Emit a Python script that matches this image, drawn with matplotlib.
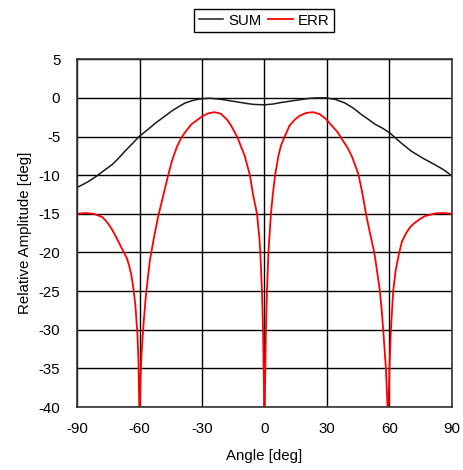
import matplotlib
matplotlib.use('Agg')
import matplotlib.pyplot as plt
from matplotlib.ticker import MultipleLocator

plt.rcParams['font.family'] = ['Liberation Sans', 'DejaVu Sans']
plt.rcParams['axes.unicode_minus'] = False

# sum channel pattern
sum_angle = [-90, -85, -81, -77, -73, -70, -67, -63, -60, -56, -52.5, -48.5, -44.5, -41, -38, -34,
             -30, -26, -20.5, -16, -12.5, -8, -5, 0, 4, 8, 13, 18, 22, 25, 29.5, 34, 38.5, 42.5,
             46.5, 50, 53, 56.5, 60, 65, 70.5, 76, 81.5, 86, 90]
sum_amp = [-11.6, -10.9, -10.2, -9.4, -8.6, -7.8, -6.9, -5.8, -4.95, -4.1, -3.3, -2.5, -1.7, -1.1,
           -0.65, -0.3, -0.1, -0.05, -0.2, -0.4, -0.55, -0.75, -0.85, -0.9, -0.8, -0.6, -0.4, -0.2,
           -0.05, 0.0, 0.0, -0.2, -0.65, -1.3, -2.15, -2.8, -3.4, -3.9, -4.5, -5.7, -6.9, -7.8,
           -8.6, -9.3, -10.1]

# difference (error) channel pattern
err_angle = [-90, -86, -82, -80, -78, -76.5, -75, -73.5, -72, -70.5, -69, -67.5, -66, -65, -64,
             -63, -62, -61, -60.5, -60,
             -59.5, -59, -58, -57, -56, -55, -53, -51, -48.5, -46.5, -44.5, -42, -40, -38,
             -35, -32, -30, -27, -24, -21, -18, -16, -13, -9.5, -7, -5.5, -3.6, -2.5, -2,
             -1.2, -0.7, -0.4, 0, 0.4, 0.7, 1.2, 1.9, 3.1, 4, 5.1, 6.7, 8, 9.9, 12, 14.6,
             17, 20, 23.4, 26.5, 29.4, 32, 35, 37.1, 40, 42, 45, 46.6, 47.7, 48.7, 50.5,
             52.7, 54, 55.4, 56.3, 57, 58.3, 59.4, 60, 60.7, 61.8, 63, 64.7, 66, 68, 70, 72,
             74.5, 77, 82, 86, 90]
err_amp = [-15.0, -14.9, -15.0, -15.2, -15.4, -15.8, -16.3, -16.9, -17.6, -18.4, -19.2, -20.0, -20.8,
           -21.7, -22.8, -24.5, -26.8, -30.5, -34, -42,
           -36, -33, -29, -25.8, -23.3, -21.0, -18.0, -15.3, -12.5, -10.3, -8.2, -6.3, -5.2, -4.4,
           -3.4, -2.8, -2.4, -2.0, -1.85, -2.05, -2.8, -3.6, -5.1, -7.5, -10.0, -12.5, -15.0, -18, -20,
           -25, -30, -35, -42, -35, -30, -25, -20, -15, -12.5, -10, -7.5, -6.1, -4.9, -3.6, -2.8,
           -2.3, -1.95, -1.85, -2.1, -2.7, -3.5, -4.4, -5.3, -6.5, -7.6, -9.8, -11.8, -13.4, -15, -17.3,
           -20, -22.3, -25, -27.5, -30, -35, -42, -35, -30, -25, -22.3, -20, -18.6, -17.5, -16.7, -16.2,
           -15.7, -15.3, -14.95, -14.9, -15.0]

x_ticks = [-90, -60, -30, 0, 30, 60, 90]

fig = plt.figure(figsize=(4.64, 4.70), dpi=100)
ax = fig.add_axes([0.166, 0.134, 0.808, 0.740])

l_sum, = ax.plot(sum_angle, sum_amp, color='#1a1a1a', lw=1.1, label='SUM')
l_err, = ax.plot(err_angle, err_amp, color='#ff0000', lw=1.3, label='ERR')

ax.set_xlim(-90, 90)
ax.set_ylim(-40, 5)
ax.set_xticks(x_ticks)
ax.yaxis.set_major_locator(MultipleLocator(5))
ax.grid(True, color='black', lw=1.0)
ax.set_axisbelow(True)
for s in ax.spines.values():
    s.set_color('#333333')
    s.set_linewidth(1.2)
ax.tick_params(axis='both', length=0, labelsize=10.8, colors='black')
ax.tick_params(axis='y', pad=12)
ax.tick_params(axis='x', pad=11)

ax.set_xlabel('Angle [deg]', fontsize=10.8, labelpad=9)
ax.set_ylabel('Relative Amplitude [deg]', fontsize=10.8, labelpad=5)

fig.legend(handles=[l_sum, l_err], loc='center', bbox_to_anchor=(0.569, 0.956), ncol=2,
           fontsize=10.8, fancybox=False, edgecolor='black', framealpha=1,
           handlelength=1.65, handletextpad=0.35, columnspacing=0.4,
           borderpad=0.3, borderaxespad=0)

fig.savefig('out.png', dpi=100)
